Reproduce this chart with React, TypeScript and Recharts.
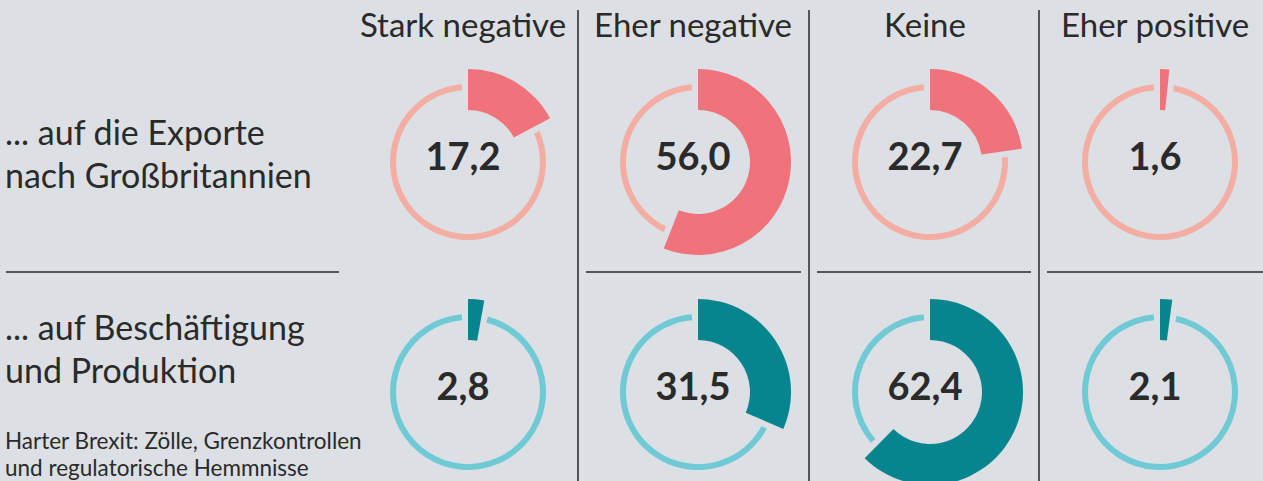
import { PieChart, Pie, Cell } from 'recharts';

const categories = ['Stark negative', 'Eher negative', 'Keine', 'Eher positive'];
const exportValues = [17.2, 56.0, 22.7, 1.6];
const jobValues = [2.8, 31.5, 62.4, 2.1];
const rowLabels = [
  ['... auf die Exporte', 'nach Großbritannien'],
  ['... auf Beschäftigung', 'und Produktion'],
];
const footnote = ['Harter Brexit: Zölle, Grenzkontrollen', 'und regulatorische Hemmnisse'];

const W = 1263;
const H = 481;
const BG = '#dcdfe3';
const TEXT = '#2a2a2a';
const FONT = 'Lato, "Open Sans", sans-serif';

const colX = [463, 693, 925, 1155];
const rowY = [157, 387];
const labelY = [145, 340];
const dividerX = [578, 809, 1039];
const GAP = 1.3; // percent of circle left open on either side of the value arc

const rows = [
  { values: exportValues, strong: '#f0727a', light: '#f4ada3' },
  { values: jobValues, strong: '#07858f', light: '#6fcad6' },
];

const fmt = (v: number) => v.toFixed(1).replace('.', ',');

export default function App() {
  return (
    <div style={{ position: 'absolute', left: 0, top: 0, width: W, height: H, background: BG }}>
      <PieChart width={W} height={H} style={{ position: 'absolute', left: 0, top: 0 }}>
        {rows.flatMap((row, r) =>
          row.values.map((v, c) => [
            <Pie
              key={`ring-${r}-${c}`}
              data={[
                { name: 'value', v: v + GAP },
                { name: 'rest', v: 100 - v - 2 * GAP },
                { name: 'gap', v: GAP },
              ]}
              dataKey="v"
              cx={colX[c]}
              cy={rowY[r]}
              innerRadius={72}
              outerRadius={78}
              startAngle={90}
              endAngle={-270}
              stroke="none"
              isAnimationActive={false}
            >
              <Cell fill="transparent" />
              <Cell fill={row.light} />
              <Cell fill="transparent" />
            </Pie>,
            <Pie
              key={`arc-${r}-${c}`}
              data={[
                { name: 'value', v },
                { name: 'rest', v: 100 - v },
              ]}
              dataKey="v"
              cx={colX[c]}
              cy={rowY[r]}
              innerRadius={52}
              outerRadius={93}
              startAngle={90}
              endAngle={-270}
              stroke="none"
              isAnimationActive={false}
            >
              <Cell fill={row.strong} />
              <Cell fill="transparent" />
            </Pie>,
          ]),
        )}
      </PieChart>
      <svg width={W} height={H} style={{ position: 'absolute', left: 0, top: 0, pointerEvents: 'none' }}>
        {dividerX.map((x) => (
          <line key={x} x1={x} x2={x} y1={10} y2={H} stroke="#555" strokeWidth={2} />
        ))}
        {[6, ...dividerX.map((x) => x + 8)].map((x0, i) => {
          const x1 = i < dividerX.length ? dividerX[i] - 8 : W;
          return <line key={x0} x1={x0} x2={i === 0 ? 339 : x1} y1={272} y2={272} stroke="#555" strokeWidth={2} />;
        })}
        {categories.map((cat, c) => (
          <text key={cat} x={colX[c]} y={37} textAnchor="middle" fontFamily={FONT} fontSize={33} fill={TEXT}>
            {cat}
          </text>
        ))}
        {rows.map((row, r) =>
          row.values.map((v, c) => (
            <text
              key={`${r}-${c}`}
              x={colX[c]}
              y={rowY[r] + 13}
              textAnchor="middle"
              fontFamily={FONT}
              fontWeight={700}
              fontSize={38}
              fill={TEXT}
            >
              {fmt(v)}
            </text>
          )),
        )}
        {rowLabels.map((lines, r) =>
          lines.map((line, i) => (
            <text key={line} x={5} y={labelY[r] + i * 43} fontFamily={FONT} fontSize={34} fill={TEXT}>
              {line}
            </text>
          )),
        )}
        {footnote.map((line, i) => (
          <text key={line} x={5} y={449 + i * 27} fontFamily={FONT} fontSize={22.5} fill={TEXT}>
            {line}
          </text>
        ))}
      </svg>
    </div>
  );
}
